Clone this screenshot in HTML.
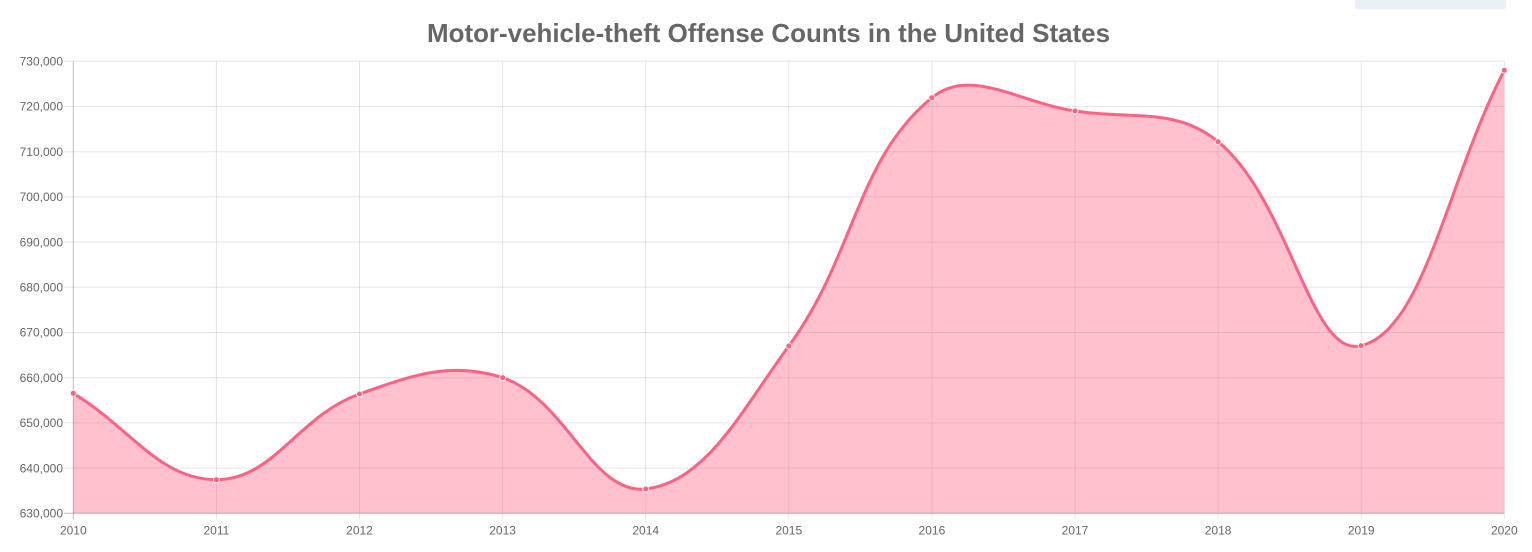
<!DOCTYPE html>
<html>
<head>
<meta charset="utf-8">
<style>
  html, body { margin: 0; padding: 0; background: #ffffff; }
  body { width: 1532px; height: 552px; overflow: hidden; }
  svg { display: block; }
  text { font-family: "Liberation Sans", Arial, sans-serif; fill: #666666; }
</style>
</head>
<body>
<svg width="1532" height="552" viewBox="0 0 1532 552" xmlns="http://www.w3.org/2000/svg">
  <!-- top-right tab -->
  <path d="M1355,0 H1506 V6.5 Q1506,9.5 1503,9.5 H1358 Q1355,9.5 1355,6.5 Z" fill="#ebf0f7"/>

  <!-- title -->
  <text x="768.5" y="42" text-anchor="middle" font-size="26" font-weight="bold" textLength="683" lengthAdjust="spacingAndGlyphs">Motor-vehicle-theft Offense Counts in the United States</text>

  <!-- horizontal grid lines -->
  <g stroke="rgba(0,0,0,0.1)" stroke-width="1">
    <line x1="64" y1="61.3" x2="1504.3" y2="61.3"/>
    <line x1="64" y1="106.5" x2="1504.3" y2="106.5"/>
    <line x1="64" y1="151.7" x2="1504.3" y2="151.7"/>
    <line x1="64" y1="196.9" x2="1504.3" y2="196.9"/>
    <line x1="64" y1="242.1" x2="1504.3" y2="242.1"/>
    <line x1="64" y1="287.3" x2="1504.3" y2="287.3"/>
    <line x1="64" y1="332.5" x2="1504.3" y2="332.5"/>
    <line x1="64" y1="377.7" x2="1504.3" y2="377.7"/>
    <line x1="64" y1="422.9" x2="1504.3" y2="422.9"/>
    <line x1="64" y1="468.1" x2="1504.3" y2="468.1"/>
  </g>
  <!-- vertical grid lines -->
  <g stroke="rgba(0,0,0,0.1)" stroke-width="1">
    <line x1="216.4" y1="61.3" x2="216.4" y2="519"/>
    <line x1="359.5" y1="61.3" x2="359.5" y2="519"/>
    <line x1="502.6" y1="61.3" x2="502.6" y2="519"/>
    <line x1="645.7" y1="61.3" x2="645.7" y2="519"/>
    <line x1="788.8" y1="61.3" x2="788.8" y2="519"/>
    <line x1="931.9" y1="61.3" x2="931.9" y2="519"/>
    <line x1="1075.0" y1="61.3" x2="1075.0" y2="519"/>
    <line x1="1218.1" y1="61.3" x2="1218.1" y2="519"/>
    <line x1="1361.2" y1="61.3" x2="1361.2" y2="519"/>
    <line x1="1504.3" y1="61.3" x2="1504.3" y2="519"/>
  </g>

  <!-- fill area -->
  <path d="M73.3,393.3
    C130.54,427.86 159.10,479.56 216.4,479.7
    C273.58,479.84 298.07,415.89 359.5,394.0
    C412.55,375.09 451.92,360.88 502.6,377.7
    C566.40,398.88 591.60,494.99 645.7,489.0
    C706.08,482.31 741.43,410.77 788.8,346.0
    C855.91,254.25 855.66,160.30 931.9,97.7
    C970.14,66.30 1018.28,102.28 1075.0,111.0
    C1132.76,119.88 1175.74,106.96 1218.1,141.7
    C1290.22,200.84 1310.22,358.42 1361.2,345.7
    C1424.70,329.86 1447.06,180.46 1504.3,70.3
    L1504.3,513.3 L73.3,513.3 Z" fill="rgba(255,99,132,0.4)" stroke="none"/>

  <!-- axes -->
  <line x1="73.3" y1="61.3" x2="73.3" y2="519" stroke="rgba(0,0,0,0.25)" stroke-width="1"/>
  <line x1="64" y1="513.3" x2="1504.3" y2="513.3" stroke="rgba(0,0,0,0.25)" stroke-width="1"/>

  <!-- line -->
  <path d="M73.3,393.3
    C130.54,427.86 159.10,479.56 216.4,479.7
    C273.58,479.84 298.07,415.89 359.5,394.0
    C412.55,375.09 451.92,360.88 502.6,377.7
    C566.40,398.88 591.60,494.99 645.7,489.0
    C706.08,482.31 741.43,410.77 788.8,346.0
    C855.91,254.25 855.66,160.30 931.9,97.7
    C970.14,66.30 1018.28,102.28 1075.0,111.0
    C1132.76,119.88 1175.74,106.96 1218.1,141.7
    C1290.22,200.84 1310.22,358.42 1361.2,345.7
    C1424.70,329.86 1447.06,180.46 1504.3,70.3" fill="none" stroke="#ff6384" stroke-width="3" stroke-linejoin="round"/>

  <!-- points -->
  <g fill="#ff6384" stroke="rgba(255,255,255,0.85)" stroke-width="1">
    <circle cx="73.3" cy="393.3" r="3"/>
    <circle cx="216.4" cy="479.7" r="3"/>
    <circle cx="359.5" cy="394.0" r="3"/>
    <circle cx="502.6" cy="377.7" r="3"/>
    <circle cx="645.7" cy="489.0" r="3"/>
    <circle cx="788.8" cy="346.0" r="3"/>
    <circle cx="931.9" cy="97.7" r="3"/>
    <circle cx="1075.0" cy="111.0" r="3"/>
    <circle cx="1218.1" cy="141.7" r="3"/>
    <circle cx="1361.2" cy="345.7" r="3"/>
    <circle cx="1504.3" cy="70.3" r="3"/>
  </g>

  <!-- y tick labels -->
  <g font-size="12" text-anchor="end">
    <text x="63" y="65.5">730,000</text>
    <text x="63" y="110.7">720,000</text>
    <text x="63" y="155.9">710,000</text>
    <text x="63" y="201.1">700,000</text>
    <text x="63" y="246.3">690,000</text>
    <text x="63" y="291.5">680,000</text>
    <text x="63" y="336.7">670,000</text>
    <text x="63" y="381.9">660,000</text>
    <text x="63" y="427.1">650,000</text>
    <text x="63" y="472.3">640,000</text>
    <text x="63" y="517.5">630,000</text>
  </g>

  <!-- x tick labels -->
  <g font-size="12" text-anchor="middle">
    <text x="73.3" y="534.5">2010</text>
    <text x="216.4" y="534.5">2011</text>
    <text x="359.5" y="534.5">2012</text>
    <text x="502.6" y="534.5">2013</text>
    <text x="645.7" y="534.5">2014</text>
    <text x="788.8" y="534.5">2015</text>
    <text x="931.9" y="534.5">2016</text>
    <text x="1075.0" y="534.5">2017</text>
    <text x="1218.1" y="534.5">2018</text>
    <text x="1361.2" y="534.5">2019</text>
    <text x="1504.3" y="534.5">2020</text>
  </g>
</svg>
</body>
</html>
